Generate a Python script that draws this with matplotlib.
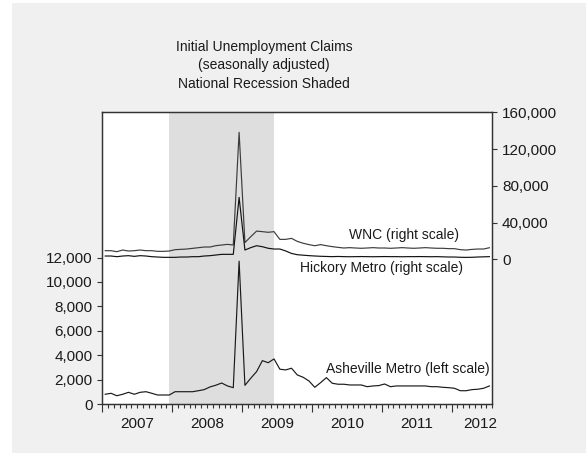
'''Initial unemployment claims, WNC / Hickory / Asheville, recession shaded'''
import matplotlib
matplotlib.use('Agg')
import matplotlib.pyplot as plt
from matplotlib.patches import Rectangle
from matplotlib.ticker import FuncFormatter, FixedLocator
import numpy as np

plt.rcParams['font.family'] = ['Liberation Sans', 'DejaVu Sans']

# monthly, Jan 2007 .. Jul 2012
YEARS = ['2007', '2008', '2009', '2010', '2011', '2012']

ASHEVILLE = [820, 900, 700, 820, 980, 820, 980, 1030, 900, 760, 760, 760,
             1030, 1030, 1030, 1030, 1110, 1200, 1420, 1560, 1740, 1500, 1360, 11700,
             1550, 2130, 2670, 3570, 3400, 3710, 2870, 2810, 2950, 2400, 2210, 1910,
             1390, 1770, 2180, 1720, 1640, 1640, 1580, 1580, 1580, 1440, 1500, 1530,
             1660, 1440, 1500, 1500, 1500, 1500, 1500, 1500, 1440, 1440, 1390, 1360,
             1310, 1110, 1110, 1200, 1230, 1310, 1500]

WNC = [9390, 9390, 8300, 10110, 9030, 9390, 10110, 9390, 9390, 8660, 8660, 9030,
       10480, 10840, 11200, 11930, 12650, 13380, 13380, 14830, 15560, 16280, 15560, 138200,
       18200, 24600, 30700, 30100, 29400, 30100, 21700, 21700, 22800, 19500, 17500, 16000,
       14800, 16000, 14800, 13800, 13000, 12300, 12700, 12300, 12000, 12300, 12700, 12300,
       12300, 12000, 12300, 12700, 12300, 12000, 12300, 12700, 12300, 12000, 12000, 11600,
       11600, 10500, 10100, 10800, 11200, 11200, 12600]

HICKORY = [3590, 3590, 2860, 3590, 3950, 3220, 3950, 3590, 2860, 2500, 2140, 2140,
           2140, 2500, 2500, 2860, 2860, 3590, 3950, 4680, 5400, 5400, 5400, 67400,
           10100, 12700, 14800, 13700, 12000, 11200, 11200, 9100, 6400, 5000, 4500, 4000,
           3600, 3300, 3100, 2900, 3100, 2900, 2800, 2900, 3000, 2900, 2800, 2900,
           3000, 2900, 2900, 2800, 2900, 2900, 3000, 2900, 2800, 2900, 2700, 2500,
           2500, 2200, 2100, 2200, 2500, 2700, 2900]

RECESSION = (11, 29)   # Dec 2007 .. Jun 2009 (month index)

FRAME = '#333333'
TXT = '#1a1a1a'

fig = plt.figure(figsize=(5.86, 4.53), dpi=100)
fig.patch.set_facecolor('white')
fig.add_artist(Rectangle((12 / 586, 0), 1, 450 / 453, transform=fig.transFigure,
                         facecolor='#f0f0f0', edgecolor='none', zorder=-10))

ax = fig.add_axes([0.1746, 0.1075, 0.6655, 0.6446])
ax2 = ax.twinx()

xs = np.arange(len(ASHEVILLE))
ax.axvspan(RECESSION[0], RECESSION[1], color='#dedede', lw=0, zorder=0)
ax.plot(xs, ASHEVILLE, color='#1a1a1a', lw=0.85, zorder=3)
ax2.plot(xs, WNC, color='#3c3c3c', lw=0.85)
ax2.plot(xs, HICKORY, color='#111111', lw=0.85)

ax.set_xlim(-0.5, len(xs) - 0.5)
ax.set_ylim(0, 23870)
ax2.set_ylim(-157800, 160000)

comma = FuncFormatter(lambda v, p: '{:,.0f}'.format(v))
ax.set_yticks(range(0, 12001, 2000))
ax.yaxis.set_major_formatter(comma)
ax2.set_yticks(range(0, 160001, 40000))
ax2.yaxis.set_major_formatter(comma)

# year boundaries major, month boundaries minor
ax.xaxis.set_major_locator(FixedLocator(np.arange(-0.5, len(xs), 12)))
ax.xaxis.set_minor_locator(FixedLocator(np.arange(-0.5, len(xs) + 0.5, 1)))
ax.set_xticklabels([])
ax.tick_params(axis='x', which='major', direction='out', length=6, width=0.8, color=FRAME)
ax.tick_params(axis='x', which='minor', direction='out', length=3, width=0.8, color=FRAME)
ax.tick_params(axis='y', direction='out', length=3.5, width=0.8, pad=3.5,
               labelsize=11, color=FRAME, labelcolor=TXT)
ax2.tick_params(axis='y', direction='out', length=3.5, width=0.8, pad=3.5,
                labelsize=11, color=FRAME, labelcolor=TXT)

for pos, yr in zip([5.5, 17.5, 29.5, 41.5, 53.5, 64.4], YEARS):
    ax.text(pos, -0.068, yr, transform=ax.get_xaxis_transform(),
            ha='center', va='center', fontsize=11, color=TXT)

for a in (ax, ax2):
    for sp in a.spines.values():
        sp.set_color(FRAME)
        sp.set_linewidth(0.9)

ax.text(0.773, 0.58, 'WNC (right scale)', transform=ax.transAxes,
        ha='center', va='center', fontsize=10, color=TXT)
ax.text(0.7164, 0.467, 'Hickory Metro (right scale)', transform=ax.transAxes,
        ha='center', va='center', fontsize=10, color=TXT)
ax.text(0.7826, 0.121, 'Asheville Metro (left scale)', transform=ax.transAxes,
        ha='center', va='center', fontsize=10, color=TXT, zorder=4)

fig.text(264 / 586, 1 - 65.5 / 453,
         'Initial Unemployment Claims\n(seasonally adjusted)\nNational Recession Shaded',
         ha='center', va='center', fontsize=10, linespacing=1.45, color=TXT)

fig.savefig('out.png', dpi=100)
